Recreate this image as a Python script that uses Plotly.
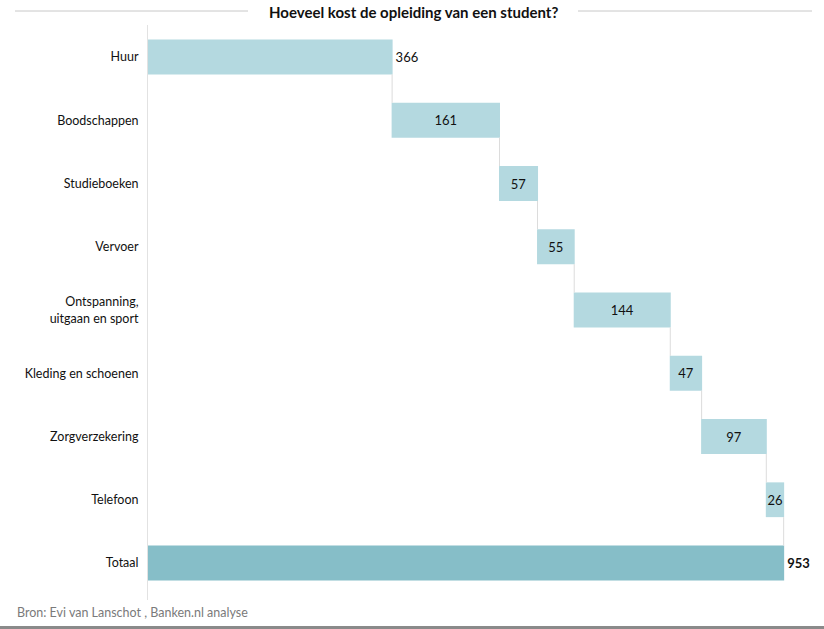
import plotly.graph_objects as go

categories = ["Huur", "Boodschappen", "Studieboeken", "Vervoer",
              "Ontspanning,<br>uitgaan en sport", "Kleding en schoenen",
              "Zorgverzekering", "Telefoon", "Totaal"]
values = [366, 161, 57, 55, 144, 47, 97, 26, 953]
measures = ["relative"] * 8 + ["total"]
labels = ["366", "161", "57", "55", "144", "47", "97", "26", "<b>953</b>"]
text_pos = ["outside"] + ["inside"] * 7 + ["outside"]

W, H = 824, 629
L, R, T, B = 148, 9, 25, 29
pw, ph = W - L - R, H - T - B

def px(x):
    return (x - L) / pw

def py(y):
    return (H - B - y) / ph

fig = go.Figure(go.Waterfall(
    orientation="h",
    y=categories,
    x=values,
    measure=measures,
    text=labels,
    textposition=text_pos,
    insidetextanchor="middle",
    constraintext="none",
    textfont=dict(family="Lato", size=13, color="#111"),
    increasing=dict(marker=dict(color="#b4d9e0")),
    totals=dict(marker=dict(color="#86bec8")),
    connector=dict(line=dict(color="#dcdcdc", width=1)),
    width=0.55,
    cliponaxis=False,
))

fig.update_layout(
    width=W, height=H,
    margin=dict(l=L, r=R, t=T, b=B),
    paper_bgcolor="white", plot_bgcolor="white",
    font=dict(family="Lato", size=12.5, color="#111"),
    showlegend=False,
    xaxis=dict(range=[0, 1000], visible=False, showgrid=False, zeroline=False),
    yaxis=dict(range=[8.585, -0.506], showgrid=False, zeroline=False,
               showline=True, linecolor="#e2e2e2", linewidth=1,
               ticks="outside", ticklen=6, tickcolor="rgba(0,0,0,0)",
               tickfont=dict(family="Lato", size=12.5, color="#111")),
    annotations=[
        dict(text="<b>Hoeveel kost de opleiding van een student?</b>",
             x=px(413), y=py(12), xref="paper", yref="paper",
             xanchor="center", yanchor="middle", showarrow=False,
             font=dict(family="Lato", size=15, color="#111")),
        dict(text="Bron: Evi van Lanschot , Banken.nl analyse",
             x=px(15), y=py(612), xref="paper", yref="paper",
             xanchor="left", yanchor="middle", showarrow=False,
             font=dict(family="Lato", size=12.5, color="#7a7a7a")),
    ],
    shapes=[
        dict(type="line", xref="paper", yref="paper",
             x0=px(15), x1=px(248), y0=py(11), y1=py(11),
             line=dict(color="#c8c8c8", width=1)),
        dict(type="line", xref="paper", yref="paper",
             x0=px(578), x1=px(812), y0=py(11), y1=py(11),
             line=dict(color="#c8c8c8", width=1)),
        dict(type="rect", xref="paper", yref="paper",
             x0=px(0), x1=px(824), y0=py(626), y1=py(630),
             fillcolor="#8a8a8a", line=dict(width=0)),
    ],
)

fig.write_html("out.html",
               config={"displayModeBar": False},
               post_script="document.body.style.margin='0';document.body.style.overflow='hidden';")
